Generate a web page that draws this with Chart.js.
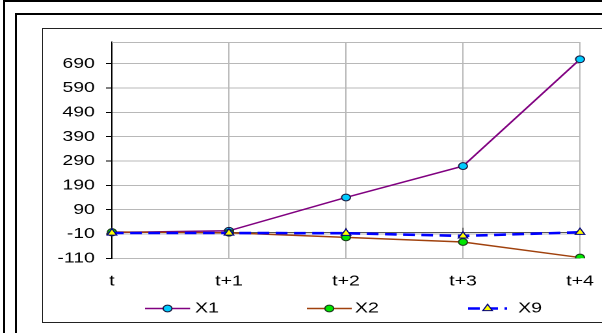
<!DOCTYPE html>
<html>
<head>
<meta charset="utf-8">
<script src="https://cdn.jsdelivr.net/npm/chart.js@4/dist/chart.umd.min.js"></script>
<style>
  html, body { margin: 0; padding: 0; background: #fff; overflow: hidden; width: 602px; height: 333px; }
  /* the chart is laid out on a narrower canvas and widened, giving the broad lettering and oval markers */
  #wrap { position: absolute; left: 0; top: 0; width: 463px; height: 333px; transform: scaleX(1.3002); transform-origin: 0 0; }
  .frame { position: absolute; pointer-events: none; box-sizing: border-box; }
</style>
</head>
<body>
<div id="wrap"><canvas id="c" width="463" height="333"></canvas></div>
<div class="frame" style="left:3px;top:0;width:700px;height:500px;border:2px solid #000"></div>
<div class="frame" style="left:15px;top:13px;width:700px;height:500px;border:2px solid #000"></div>
<div class="frame" style="left:42px;top:28px;width:700px;height:295px;border:1px solid #222"></div>
<script>
// periods on the horizontal axis
const categories = ['t', 't+1', 't+2', 't+3', 't+4'];
// series values
const x1Values = [-4, 3, 140, 269, 708];
const x2Values = [-2, -5, -24, -43, -107];
const x9Values = [-6, -6, -7, -18, -3];
// value axis ticks
const yTicks = [-110, -10, 90, 190, 290, 390, 490, 590, 690];
const yMin = -110;
const yMax = 779;

const FONT = { family: '"Liberation Sans", Arial, sans-serif', size: 15 };
const GRID = '#b8b8b8';

// horizontal axis crossing at zero, with upward tick marks
const zeroAxis = {
  id: 'zeroAxis',
  beforeDatasetsDraw(chart) {
    const { ctx, chartArea: a, scales: { x, y } } = chart;
    const y0 = Math.round(y.getPixelForValue(0)) + 0.5;
    ctx.save();
    ctx.strokeStyle = '#555';
    ctx.lineWidth = 1;
    ctx.beginPath();
    ctx.moveTo(a.left, y0);
    ctx.lineTo(a.right, y0);
    categories.forEach((c, i) => {
      const px = x.getPixelForValue(i);
      ctx.moveTo(px, y0);
      ctx.lineTo(px, y0 - 4.7);
    });
    ctx.stroke();
    // top edge of the plot area
    ctx.strokeStyle = GRID;
    ctx.beginPath();
    ctx.moveTo(a.left, Math.round(a.top) + 0.5);
    ctx.lineTo(a.right, Math.round(a.top) + 0.5);
    ctx.stroke();
    ctx.restore();
  }
};

// legend row: line sample with marker, then series name
const lineLegend = {
  id: 'lineLegend',
  afterDraw(chart) {
    const { ctx } = chart;
    const items = [
      { ds: 0, x0: 111.5, x1: 146.2, tx: 150 },
      { ds: 1, x0: 236, x1: 270.5, tx: 273 },
      { ds: 2, x0: 360, x1: 390, tx: 398.5 }
    ];
    const yy = 308.5;
    ctx.save();
    items.forEach(it => {
      const d = chart.data.datasets[it.ds];
      const cx = (it.x0 + it.x1) / 2;
      ctx.strokeStyle = d.borderColor;
      ctx.lineWidth = d.borderWidth;
      ctx.setLineDash(d.borderDash || []);
      ctx.beginPath();
      ctx.moveTo(it.x0, yy);
      ctx.lineTo(it.x1, yy);
      ctx.stroke();
      ctx.setLineDash([]);
      ctx.fillStyle = d.pointBackgroundColor;
      ctx.strokeStyle = d.pointBorderColor;
      ctx.lineWidth = d.pointBorderWidth;
      ctx.beginPath();
      if (d.pointStyle === 'triangle') {
        const r = d.pointRadius;
        ctx.moveTo(cx, yy - r);
        ctx.lineTo(cx + r * 0.866, yy + r * 0.5);
        ctx.lineTo(cx - r * 0.866, yy + r * 0.5);
        ctx.closePath();
      } else {
        ctx.arc(cx, yy, d.pointRadius, 0, Math.PI * 2);
      }
      ctx.fill();
      ctx.stroke();
      ctx.fillStyle = '#000';
      ctx.font = FONT.size + 'px ' + FONT.family;
      ctx.textBaseline = 'middle';
      ctx.textAlign = 'left';
      ctx.fillText(d.label, it.tx, yy);
    });
    ctx.restore();
  }
};

new Chart(document.getElementById('c'), {
  type: 'line',
  data: {
    labels: categories,
    datasets: [
      {
        label: 'X1', data: x1Values, order: 2,
        borderColor: '#800080', borderWidth: 1.5,
        pointStyle: 'circle', pointRadius: 3.4, pointBorderWidth: 1,
        pointBackgroundColor: '#00ccff', pointBorderColor: '#1a1a40'
      },
      {
        label: 'X2', data: x2Values, order: 1,
        borderColor: '#a0410d', borderWidth: 1.5,
        pointStyle: 'circle', pointRadius: 3.4, pointBorderWidth: 1,
        pointBackgroundColor: '#00e600', pointBorderColor: '#1a3a1a'
      },
      {
        label: 'X9', data: x9Values, order: 0,
        borderColor: '#0000ff', borderWidth: 2.6, borderDash: [9, 5],
        pointStyle: 'triangle', pointRadius: 4.2, pointBorderWidth: 1,
        pointBackgroundColor: '#ffff00', pointBorderColor: '#000080'
      }
    ]
  },
  options: {
    responsive: false,
    animation: false,
    devicePixelRatio: 2,
    layout: { padding: { left: 0, top: 42, right: 16.9, bottom: 0 } },
    elements: { line: { tension: 0 } },
    plugins: { legend: { display: false }, tooltip: { enabled: false } },
    scales: {
      x: {
        type: 'category',
        offset: false,
        grid: { color: GRID, lineWidth: 1, drawTicks: false },
        border: { display: true, color: GRID },
        ticks: { color: '#000', font: FONT, padding: 14, maxRotation: 0, autoSkip: false },
        afterFit(s) { s.height = 74.7; s.paddingLeft = 0; s.paddingRight = 0; }
      },
      y: {
        min: yMin, max: yMax,
        grid: { color: GRID, lineWidth: 1, tickColor: '#000', tickLength: 4.6 },
        border: { display: true, color: '#000', width: 1 },
        ticks: { color: '#000', font: FONT, padding: 8.5, autoSkip: false },
        afterBuildTicks(s) { s.ticks = yTicks.map(v => ({ value: v })); },
        afterFit(s) { s.width = 86.1; s.paddingTop = 0; s.paddingBottom = 0; }
      }
    }
  },
  plugins: [zeroAxis, lineLegend]
});
</script>
</body>
</html>
